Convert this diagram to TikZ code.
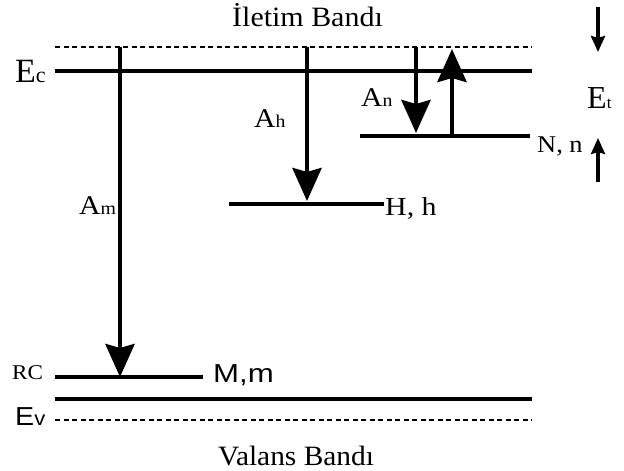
\documentclass[tikz,border=0pt]{standalone}
\usepackage{graphicx}
\usepackage{fontspec}
\setmainfont{Liberation Serif}
\newfontfamily\arialf{Liberation Sans}
\usetikzlibrary{arrows.meta}
\newcommand{\wid}[2][1.1]{\scalebox{#1}[1]{#2}}
\newcommand{\fs}[1]{\fontsize{#1}{#1}\selectfont}
\tikzset{
  level/.style={line width=4pt},
  dotline/.style={line width=1.8pt, dash pattern=on 5pt off 3.5pt},
  bigarrow/.style={line width=4.5pt, -{Stealth[length=33pt,width=29pt,inset=4pt]}},
  smallarrow/.style={line width=3.5pt, -{Stealth[length=16pt,width=14pt,inset=2pt]}},
  lab/.style={inner sep=0pt, anchor=base west},
  clab/.style={inner sep=0pt, anchor=base}
}
\begin{document}
\begin{tikzpicture}[x=1pt,y=-1pt]
\useasboundingbox (0,0) rectangle (624,471);
% band edges
\coordinate (dtL) at (55,47);  \coordinate (dtR) at (532,47);
\coordinate (ecL) at (55,71);  \coordinate (ecR) at (532,71);
\coordinate (evL) at (55,399); \coordinate (evR) at (532,399);
\coordinate (dbL) at (55,420); \coordinate (dbR) at (532,420);
% trap levels
\coordinate (nL) at (360,136); \coordinate (nR) at (530,136);
\coordinate (hL) at (229,204); \coordinate (hR) at (384,204);
\coordinate (rL) at (55,377);  \coordinate (rR) at (203,377);
% arrow ends
\coordinate (amT) at (120,47); \coordinate (amB) at (120,377);
\coordinate (ahT) at (307,47); \coordinate (ahB) at (307,201);
\coordinate (anT) at (416,47); \coordinate (anB) at (416,133);
\coordinate (upB) at (452,134); \coordinate (upT) at (452,49);
\coordinate (sdT) at (598,7);  \coordinate (sdB) at (598,52);
\coordinate (suB) at (598,182); \coordinate (suT) at (598,138);

\draw[dotline] (dtL) -- (dtR);
\draw[dotline] (dbL) -- (dbR);
\draw[level] (ecL) -- (ecR);
\draw[level] (evL) -- (evR);
\draw[level] (nL) -- (nR);
\draw[level] (hL) -- (hR);
\draw[level] (rL) -- (rR);

\draw[bigarrow] (amT) -- (amB);
\draw[bigarrow] (ahT) -- (ahB);
\draw[bigarrow] (anT) -- (anB);
\draw[bigarrow] (upB) -- (upT);
\draw[smallarrow] (sdT) -- (sdB);
\draw[smallarrow] (suB) -- (suT);

% labels
\node[clab] (ilt) at (307.5,27) {\wid[1.07]{\fs{28}İletim Bandı}};
\node[clab] (val) at (296,465) {\wid[1.05]{\fs{28}Valans Bandı}};
\node[lab] (ec) at (15,82) {\wid[1.0]{\fs{34}E\fs{22}c}};
\node[lab] (et) at (587,108) {\wid[1.0]{\fs{32}E\fs{17}t}};
\node[lab] (an) at (361,106) {\wid{\fs{27}A\fs{18}n}};
\node[lab] (ah) at (254,127) {\wid{\fs{27}A\fs{18}h}};
\node[lab] (am) at (79,214) {\wid{\fs{27}A\fs{18}m}};
\node[lab] (rc) at (12,379) {\wid{\fs{21}RC}};
\node[lab] (ev) at (15,425) {\wid{\arialf\fs{26}E\fs{20}v}};
\node[lab] (mm) at (213,382) {\wid[1.2]{\arialf\fs{26}M,m}};
\node[lab] (hh) at (385,215) {\wid[1.15]{\fs{26}H, h}};
\node[lab] (nn) at (537,152) {\wid{\fs{24}N, n}};
\end{tikzpicture}
\end{document}
